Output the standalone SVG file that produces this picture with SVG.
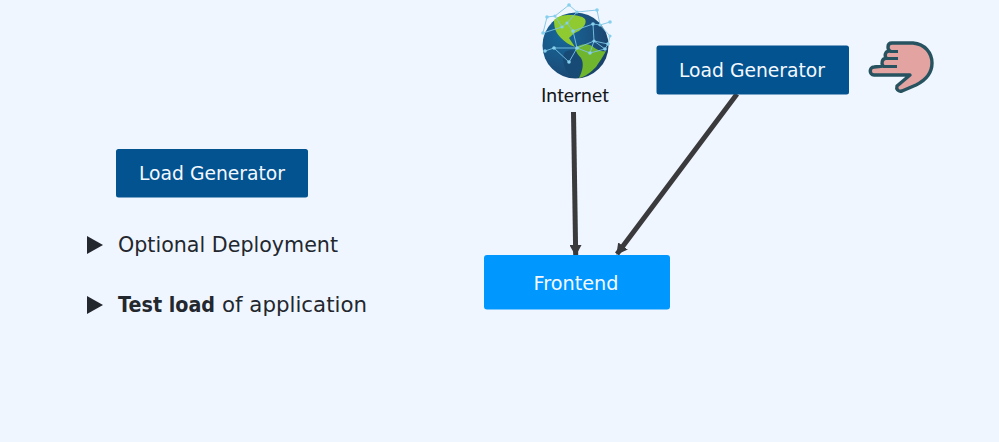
<svg xmlns="http://www.w3.org/2000/svg" width="999" height="442" viewBox="0 0 999 442">
<style>
text{font-family:"DejaVu Sans","Noto Sans",sans-serif}
.box{font-size:20px;fill:#f4f9ff;text-anchor:middle}
.bul{font-size:22px;fill:#23272e}
.conn{stroke:#3a3a3c;stroke-width:5;fill:none;marker-end:url(#ah)}
.net{stroke:#7cc4e4;stroke-width:.9;fill:none}
.dot{fill:#86d0ee}
</style>
<defs>
<marker id="ah" markerUnits="userSpaceOnUse" markerWidth="12" markerHeight="12" refX="10" refY="6" orient="auto"><path d="M0 0L11 6L0 12Z" fill="#3a3a3c"/></marker>
<radialGradient id="globe" cx=".3" cy=".35" r=".8"><stop offset="0" stop-color="#14689a"/><stop offset=".6" stop-color="#1b517f"/><stop offset="1" stop-color="#1a3f66"/></radialGradient>
</defs>
<rect width="999" height="442" fill="#f0f6ff"/>
<g id="connectors">
<path class="conn" d="M573.500 112L575.700 255"/>
<path class="conn" d="M737 94L617 254"/>
</g>
<g id="internet">
<circle cx="575.500" cy="45.500" r="33" fill="url(#globe)"/>
<path d="M565 52C573 47 584 53 585 62C586 70 582 76 577 78C566 76 560 60 565 52Z" fill="#174a74"/>
<path d="M554 20C558 16 563 15 570 15C576 15 582 16 585 19C587 23 584 27 579 31C574 33 572 35 569 38C571 41 573 44 575 47C569 45 565 42 561 38C556 33 554 28 554 20Z" fill="#8fcb30"/>
<path d="M575 48C580 44 587 43 592 46C597 50 601 52 606 51C603 57 599 62 596 67C591 72 585 77 579 78C583 70 584 63 581 58C578 55 576 52 575 48Z" fill="#6fb52d"/>
<g class="net">
<path d="M569 5L555 16L547 17L543 33L562 27L555 16M569 5L577 12L597 10L600 25L610 22M577 12L567 23L573 31L593 24L600 25L610 36L608 44L594 41L593 24M573 31L577 48L554 48L545 51M554 48L569 62L577 48L590 53L605 49L608 44M590 53L594 41L577 48M562 27L567 23M594 41L605 49"/>
</g>
<g class="dot">
<circle cx="569" cy="5" r="1.800"/><circle cx="547" cy="17" r="1.800"/><circle cx="555" cy="16" r="1.600"/><circle cx="597" cy="10" r="1.800"/><circle cx="577" cy="12" r="1.600"/><circle cx="543" cy="33" r="1.800"/><circle cx="567" cy="23" r="1.600"/><circle cx="562" cy="27" r="1.600"/><circle cx="573" cy="31" r="1.800"/><circle cx="593" cy="24" r="1.800"/><circle cx="600" cy="25" r="1.600"/><circle cx="610" cy="22" r="1.800"/><circle cx="610" cy="36" r="1.600"/><circle cx="608" cy="44" r="1.800"/><circle cx="594" cy="41" r="1.600"/><circle cx="577" cy="48" r="1.800"/><circle cx="554" cy="48" r="1.800"/><circle cx="545" cy="51" r="1.800"/><circle cx="569" cy="62" r="1.800"/><circle cx="590" cy="53" r="1.800"/><circle cx="605" cy="49" r="1.800"/>
</g>
<text x="575" y="102" font-size="18.500" text-anchor="middle" fill="#15181c" textLength="68" lengthAdjust="spacingAndGlyphs" style="font-family:'Lato','Open Sans',sans-serif">Internet</text>
</g>
<g id="load-generator-top">
<rect x="656.500" y="45.500" width="192.500" height="49" rx="2.500" fill="#035390"/>
<text class="box" x="752" y="77" textLength="146" lengthAdjust="spacingAndGlyphs">Load Generator</text>
</g>
<g id="hand">
<path d="M888 47C888 44 890 43 892 43H913C925 44 932 53 932 63C932 72 926 80 916 85L902 91C898 92 896 89 897 86L910 75H874C869 75 869 67 874 67L883 66C881 63 882 59 886 58C884 54 886 51 890 51C888 50 888 48 888 47Z" fill="#e2a3a1" stroke="#275360" stroke-width="3.400" stroke-linejoin="round"/>
<path d="M890 51.500H898M886 58.500H898M883 66.500H897" fill="none" stroke="#275360" stroke-width="3"/>
</g>
<g id="load-generator-left">
<rect x="116" y="149" width="192" height="48.500" rx="2.500" fill="#035390"/>
<text class="box" x="212" y="180" textLength="146" lengthAdjust="spacingAndGlyphs">Load Generator</text>
</g>
<g id="frontend">
<rect x="484" y="255" width="186" height="54.500" rx="3" fill="#0097ff"/>
<text class="box" x="576" y="290" textLength="85" lengthAdjust="spacingAndGlyphs">Frontend</text>
</g>
<g id="bullets">
<path d="M87 236L103 245L87 254Z" fill="#23272e"/>
<text class="bul" x="118" y="252" textLength="220" lengthAdjust="spacingAndGlyphs">Optional Deployment</text>
<path d="M87 296L103 305L87 314Z" fill="#23272e"/>
<text class="bul" x="118" y="312" textLength="97" lengthAdjust="spacingAndGlyphs" font-weight="700">Test load</text>
<text class="bul" x="222" y="312" textLength="145" lengthAdjust="spacingAndGlyphs">of application</text>
</g>
</svg>
